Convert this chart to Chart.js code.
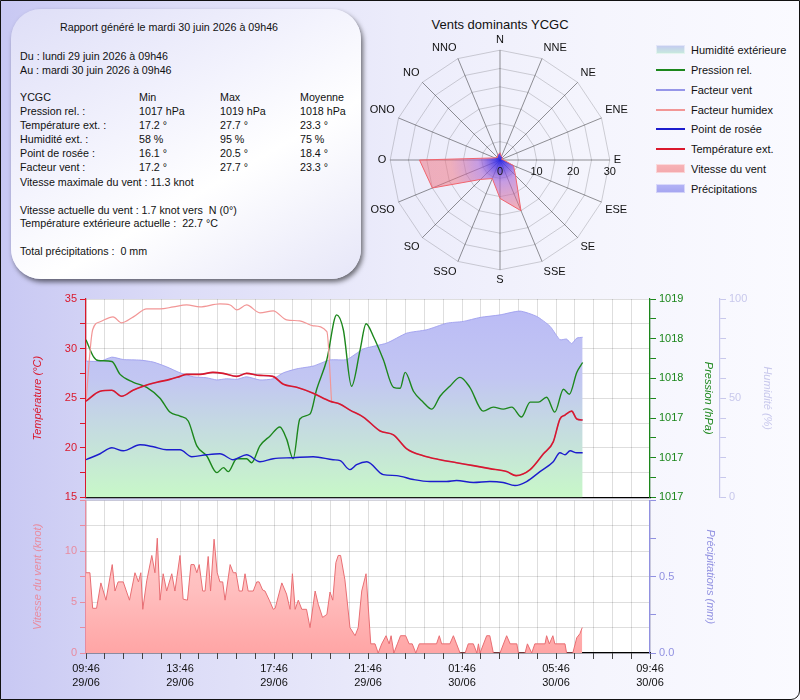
<!DOCTYPE html>
<html>
<head>
<meta charset="utf-8">
<script src="https://cdn.jsdelivr.net/npm/chart.js@4.4.0/dist/chart.umd.min.js"></script>
<style>
html,body{margin:0;padding:0}
body{width:800px;height:700px;overflow:hidden;position:relative;font-family:"Liberation Sans",Arial,sans-serif;font-size:11px;color:#111;
  background:linear-gradient(to right,#c8c8f3 0%,#dcdcf7 22%,#ececfb 50%,#f5f5fd 75%,#fafaff 100%)}
#frame{position:absolute;left:0;top:0;width:798px;height:698px;border:1px solid #111;border-radius:0 0 9px 0;pointer-events:none;z-index:10}
#info{position:absolute;left:11px;top:9px;width:350px;height:270px;border-radius:30px;
  background:linear-gradient(150deg,#dedef7 0%,#f3f3fd 40%,#ffffff 62%,#e6e6f8 100%);
  box-shadow:2px 3px 5px rgba(0,0,0,0.55)}
.t{position:absolute;white-space:pre;line-height:14px;font-size:10.7px}
#roseTitle{position:absolute;left:400px;width:200px;top:17px;text-align:center;font-size:13px}
#rose{position:absolute;left:367px;top:33px}
#legend{position:absolute;left:656px;top:0}
.li{position:absolute;left:0;white-space:nowrap;font-size:11px;line-height:14px}
.sw{position:absolute;left:0;width:29px}
.lt{position:absolute;left:35px;top:0}
canvas.main{position:absolute;left:0}
#bottom{top:491px}
#top{top:289px}
</style>
</head>
<body>
<div id="info"></div>
<div id="roseTitle">Vents dominants YCGC</div>
<canvas id="rose" width="264" height="254"></canvas>
<div id="legend"></div>
<canvas id="bottom" class="main" width="800" height="209"></canvas>
<canvas id="top" class="main" width="800" height="218"></canvas>
<div id="frame"></div>
<script>
// minutes since 29/06 09:46
const timeTicks = ['09:46','13:46','17:46','21:46','01:46','05:46','09:46'];
const dateTicks = ['29/06','29/06','29/06','29/06','30/06','30/06','30/06'];

const tempTimes = [0,36,66,91,120,146,181,214,240,257,291,324,350,385,410,444,477,504,538,580,623,649,674,708,751,785,819,861,904,946,989,1031,1074,1098,1134,1168,1193,1210,1223,1240,1253,1268];
const tempValues = [24.7,25.7,25.8,25.2,25.8,26.2,26.6,26.9,27.2,27.4,27.4,27.6,27.5,27.2,27.5,27.3,27.2,26.4,26.1,25.5,24.7,24.4,23.8,23.1,21.7,21.3,19.9,19.2,18.8,18.5,18.2,17.9,17.6,17.2,17.8,19.4,20.6,22.9,23.3,23.7,22.9,22.8];

const humidexTimes = [0,17,36,69,91,121,155,189,223,257,291,342,368,385,410,444,478,512,546,580,615,627];
const humidexValues = [24.7,31.9,32.7,33.2,32.6,33.2,34.0,34.0,34.2,34.4,34.2,34.5,34.4,33.9,34.4,33.6,33.8,32.9,32.8,32.3,31.7,24.7];

const dewTimes = [0,36,66,95,138,172,206,240,270,308,342,376,410,444,478,529,580,631,649,674,691,717,759,793,836,878,921,946,989,1031,1065,1095,1125,1159,1193,1210,1223,1236,1253,1268];
const dewValues = [18.8,19.4,20.0,19.7,20.3,20.1,19.8,19.8,19.1,19.3,19.4,18.8,19.3,18.6,18.9,19.0,19.1,18.8,18.7,17.8,18.3,18.6,17.3,17.2,16.8,16.6,16.6,16.7,16.5,16.6,16.5,16.2,16.6,17.6,18.6,19.5,19.3,19.7,19.5,19.5];

const humTimes = [0,36,66,95,138,172,206,240,274,308,334,359,385,410,444,478,504,538,580,623,666,708,768,819,870,921,963,1006,1057,1108,1151,1185,1210,1227,1240,1253,1268];
const humValues = [68.7,68.6,70.7,69.5,69.2,68.2,65.8,62.8,60.8,60.3,59.2,59.8,59.5,60.8,59.2,59.8,62.8,64.8,66.2,69.3,69.5,74.8,77.8,82.8,84.5,87.8,88.7,90.7,92.0,93.9,91.2,86.2,79.5,79.8,77.5,80.3,80.7];

const presTimes = [0,19,31,66,87,121,155,189,214,240,261,283,308,334,351,363,385,410,423,444,470,495,512,529,546,572,589,615,640,657,678,700,715,734,759,785,802,815,836,861,883,904,929,955,980,1014,1040,1065,1087,1112,1134,1155,1176,1197,1219,1234,1253,1268];
const presValues = [1018.59,1018.42,1018.38,1018.37,1018.24,1018.16,1018.11,1018.0,1017.86,1017.82,1017.77,1017.52,1017.42,1017.25,1017.30,1017.26,1017.39,1017.39,1017.35,1017.52,1017.62,1017.71,1017.59,1017.39,1017.79,1017.84,1018.09,1018.39,1018.84,1018.69,1018.12,1018.49,1018.75,1018.62,1018.39,1018.11,1018.10,1018.26,1018.07,1017.96,1017.89,1018.02,1018.12,1018.21,1018.11,1017.87,1017.91,1017.89,1017.91,1017.81,1017.96,1017.96,1018.01,1017.86,1018.09,1018.04,1018.26,1018.36];

const windTimes = [0,10,17,27,38,51,67,74,82,95,111,125,134,140,145,155,168,176,182,189,197,206,219,227,240,248,259,268,276,283,289,298,304,312,318,327,335,342,349,355,368,376,383,391,399,406,414,427,436,442,451,457,468,478,483,500,512,521,527,534,542,551,563,572,585,593,604,615,623,630,638,644,650,661,674,687,695,704,715,727,738,746,755,766,774,779,786,795,803,816,825,833,842,851,895,902,908,929,938,946,955,968,976,989,998,1002,1006,1023,1031,1040,1057,1074,1083,1100,1104,1121,1127,1138,1146,1172,1176,1183,1192,1197,1223,1227,1243,1253,1261,1267];
const windValues = [7.9,7.9,4.4,4.4,6.9,5.2,8.7,6.1,7.0,7.0,5.2,7.9,7.0,7.9,4.3,7.1,9.6,7.9,11.3,5.2,7.8,6.1,7.8,6.1,9.6,5.3,5.2,8.7,8.7,7.9,8.7,6.1,6.1,9.5,6.1,11.2,7.9,7.0,7.0,5.2,8.7,7.9,7.9,6.1,6.1,7.8,6.1,6.1,7.0,7.0,6.2,6.1,5.2,4.3,4.4,6.9,5.8,4.3,7.8,4.3,5.2,4.3,4.3,2.5,6.1,4.8,3.5,3.8,6.0,5.2,8.9,9.6,9.6,7.2,2.5,1.7,2.5,6.1,7.8,0.9,0.9,0,0.9,1.7,0.9,1.7,0,0.9,1.7,1.7,0.9,0.9,0,0.9,0.9,1.7,0.9,0.9,1.7,0.9,0,0,0.9,0.9,0,0.9,0,1.7,1.7,0,0,1.7,0.9,0.9,0,0,0.9,0,0.9,0.9,1.7,0.9,1.7,0.9,0.9,0,0,1.5,1.9,2.5];

const precipTimes = [];
const precipValues = [];

const roseDirections = ['N','NNE','NE','ENE','E','ESE','SE','SSE','S','SSO','SO','OSO','O','ONO','NO','NNO'];
const roseValues = [2,1,1,0.5,1,4,6,15,10.5,5.5,7.5,20,22,1.5,1,1.5];
const roseTicks = [0,10,20,30];

const C = {
  temp:'rgb(218,24,44)', dew:'rgb(28,28,205)', humidex:'rgb(242,150,150)', chill:'rgb(150,150,232)',
  pres:'rgb(28,135,28)', hum:'rgb(200,200,236)', windAx:'rgb(232,140,160)', wind:'rgb(232,110,115)',
  precip:'rgb(145,145,225)', grid:'rgba(0,0,0,0.13)'
};
const FONT = '"Liberation Sans", Arial, sans-serif';
Chart.defaults.font.family = FONT;
Chart.defaults.font.size = 11;

function pts(xs, ys){ return xs.map((x,i) => ({x:x, y:ys[i]})); }

// info panel
const info = document.getElementById('info');
const infoLines = [
  [49,11,'Rapport généré le mardi 30 juin 2026 à 09h46'],
  [9,40,'Du : lundi 29 juin 2026 à 09h46'],
  [9,54,'Au : mardi 30 juin 2026 à 09h46'],
  [9,81,'YCGC'],[128,81,'Min'],[209,81,'Max'],[289,81,'Moyenne'],
  [9,95,'Pression rel. :'],[128,95,'1017 hPa'],[209,95,'1019 hPa'],[289,95,'1018 hPa'],
  [9,109,'Température ext. :'],[128,109,'17.2 °'],[209,109,'27.7 °'],[289,109,'23.3 °'],
  [9,123,'Humidité ext. :'],[128,123,'58 %'],[209,123,'95 %'],[289,123,'75 %'],
  [9,137,'Point de rosée :'],[128,137,'16.1 °'],[209,137,'20.5 °'],[289,137,'18.4 °'],
  [9,151,'Facteur vent :'],[128,151,'17.2 °'],[209,151,'27.7 °'],[289,151,'23.3 °'],
  [9,166,'Vitesse maximale du vent : 11.3 knot'],
  [9,194,'Vitesse actuelle du vent : 1.7 knot vers  N (0°)'],
  [9,207,'Température extérieure actuelle :  22.7 °C'],
  [9,235,'Total précipitations :  0 mm']
];
infoLines.forEach(l => {
  const d = document.createElement('div');
  d.className = 't'; d.style.left = l[0]+'px'; d.style.top = l[1]+'px'; d.textContent = l[2];
  info.appendChild(d);
});

// legend
const legendItems = [
  ['Humidité extérieure','box','linear-gradient(to bottom,#c4c8f2,#c8ecdc)'],
  ['Pression rel.','line',C.pres],
  ['Facteur vent','line',C.chill],
  ['Facteur humidex','line',C.humidex],
  ['Point de rosée','line',C.dew],
  ['Température ext.','line',C.temp],
  ['Vitesse du vent','box','linear-gradient(to bottom,#f7b4b8,#f4a8ac)'],
  ['Précipitations','box','linear-gradient(to bottom,#b4b4f6,#a4a4f0)']
];
const legend = document.getElementById('legend');
legendItems.forEach((it,i) => {
  const row = document.createElement('div');
  row.className = 'li'; row.style.top = Math.round(43 + i*19.85)+'px';
  const sw = document.createElement('div'); sw.className = 'sw';
  if (it[1] === 'line'){ sw.style.top = '6px'; sw.style.height = '2px'; sw.style.background = it[2]; }
  else { sw.style.top = '2px'; sw.style.height = '9px'; sw.style.background = it[2]; sw.style.boxShadow = 'inset 0 0 0 1px rgba(255,255,255,0.5)'; }
  const tx = document.createElement('div'); tx.className = 'lt'; tx.textContent = it[0];
  row.appendChild(sw); row.appendChild(tx); legend.appendChild(row);
});

const plotBg = {
  id:'plotBg',
  beforeDraw(c){
    const a = c.chartArea, ctx = c.ctx;
    ctx.save(); ctx.fillStyle = '#fff';
    ctx.fillRect(a.left, a.top, a.right-a.left, a.bottom-a.top);
    ctx.restore();
  }
};

function humFill(c){
  const a = c.chart.chartArea;
  if (!a) return 'rgb(196,210,238)';
  const g = c.chart.ctx.createLinearGradient(0, a.top, 0, a.bottom);
  g.addColorStop(0, 'rgb(186,186,246)');
  g.addColorStop(0.4, 'rgb(194,198,242)');
  g.addColorStop(1, 'rgb(200,248,200)');
  return g;
}
function windFill(c){
  const a = c.chart.chartArea;
  if (!a) return 'rgb(255,190,190)';
  const g = c.chart.ctx.createLinearGradient(0, a.top, 0, a.bottom);
  g.addColorStop(0, 'rgb(255,215,215)');
  g.addColorStop(0.6, 'rgb(255,190,190)');
  g.addColorStop(1, 'rgb(255,165,165)');
  return g;
}

const xBase = {type:'linear', min:0, max:1440};

// top panel
new Chart(document.getElementById('top'), {
  type:'line',
  data:{datasets:[
    {label:'Température ext.', data:pts(tempTimes,tempValues), yAxisID:'yT', borderColor:C.temp, borderWidth:1.6, pointRadius:0, cubicInterpolationMode:'monotone'},
    {label:'Point de rosée', data:pts(dewTimes,dewValues), yAxisID:'yT', borderColor:C.dew, borderWidth:1.4, pointRadius:0, cubicInterpolationMode:'monotone'},
    {label:'Facteur humidex', data:pts(humidexTimes,humidexValues), yAxisID:'yT', borderColor:C.humidex, borderWidth:1.2, pointRadius:0, cubicInterpolationMode:'monotone'},
    {label:'Facteur vent', data:pts(tempTimes,tempValues), yAxisID:'yT', borderColor:C.chill, borderWidth:1.2, pointRadius:0, cubicInterpolationMode:'monotone'},
    {label:'Pression rel.', data:pts(presTimes,presValues), yAxisID:'yP', borderColor:C.pres, borderWidth:1.4, pointRadius:0, cubicInterpolationMode:'monotone'},
    {label:'Humidité extérieure', data:pts(humTimes,humValues), yAxisID:'yH', borderColor:'rgba(160,160,238,0.9)', borderWidth:1, pointRadius:0, fill:'start', backgroundColor:humFill, tension:0.2}
  ]},
  options:{
    responsive:false, animation:false, events:[],
    layout:{padding:{top:10,left:0,right:0,bottom:0}},
    plugins:{legend:{display:false}, tooltip:{enabled:false}},
    scales:{
      x:Object.assign({}, xBase, {z:1, ticks:{display:false, stepSize:48}, grid:{color:C.grid, drawTicks:false}, border:{color:'#000', width:1.2},
        afterFit(s){ s.height = 8; }}),
      yT:{position:'left', min:15, max:35, z:1,
        ticks:{stepSize:2.5, color:C.temp, padding:3, callback:(v,i) => i%2===0 ? String(v) : ''},
        grid:{color:C.grid, tickColor:C.temp, tickLength:6},
        border:{color:C.temp, width:1.2},
        title:{display:true, text:'Température (°C)', color:C.temp, font:{style:'italic', size:11}, padding:{top:31}},
        afterFit(s){ s.width = 86; }},
      yP:{position:'right', min:1017, max:1019,
        ticks:{stepSize:0.2, color:C.pres, padding:3, callback:(v,i) => i%2===0 ? String(Math.floor(v+1e-6)) : ''},
        grid:{drawOnChartArea:false, tickColor:C.pres, tickLength:6},
        border:{color:C.pres, width:1.2},
        title:{display:true, text:'Pression (hPa)', color:C.pres, font:{style:'italic', size:11}, padding:{top:5}},
        afterFit(s){ s.width = 70; }},
      yH:{position:'right', min:0, max:100,
        ticks:{stepSize:5, color:C.hum, padding:3, callback:v => v%25===0 ? String(v) : ''},
        grid:{drawOnChartArea:false, tickColor:C.hum, tickLength:6},
        border:{color:C.hum, width:1.2},
        title:{display:true, text:'Humidité (%)', color:C.hum, font:{style:'italic', size:11}, padding:{top:26}},
        afterFit(s){ s.width = 80; }}
    }
  },
  plugins:[plotBg]
});

// bottom panel
new Chart(document.getElementById('bottom'), {
  type:'line',
  data:{datasets:[
    {label:'Vitesse du vent', data:pts(windTimes,windValues), yAxisID:'yW', borderColor:C.wind, borderWidth:1, pointRadius:0, fill:'start', backgroundColor:windFill, tension:0},
    {label:'Précipitations', data:pts(precipTimes,precipValues), yAxisID:'yR', borderColor:C.precip, borderWidth:1, pointRadius:0, fill:'start', backgroundColor:'rgba(150,150,240,0.6)'}
  ]},
  options:{
    responsive:false, animation:false, events:[],
    layout:{padding:{top:8,left:0,right:0,bottom:0}},
    plugins:{legend:{display:false}, tooltip:{enabled:false}},
    scales:{
      x:Object.assign({}, xBase, {z:1,
        ticks:{stepSize:48, autoSkip:false, maxRotation:0, color:'#111', padding:3, font:{size:11, lineHeight:1.3},
          callback:v => v%240===0 ? [timeTicks[v/240], dateTicks[v/240]] : ''},
        grid:{color:C.grid, tickColor:'#444', tickLength:6}, border:{color:'#000', width:1.2},
        afterFit(s){ s.height = 47; }}),
      yW:{position:'left', min:0, max:15, z:1,
        ticks:{stepSize:2.5, color:C.windAx, padding:3, callback:v => (v%5===0 && v<15) ? String(v) : ''},
        grid:{color:C.grid, tickColor:C.windAx, tickLength:6},
        border:{color:C.windAx, width:1.2},
        title:{display:true, text:'Vitesse du vent (knot)', color:C.windAx, font:{style:'italic', size:11}, padding:{top:31}},
        afterFit(s){ s.width = 86; }},
      yR:{position:'right', min:0, max:1,
        ticks:{stepSize:0.25, color:C.precip, padding:3, callback:v => (v===0 || v===0.5) ? v.toFixed(1) : ''},
        grid:{drawOnChartArea:false, tickColor:C.precip, tickLength:6},
        border:{color:C.precip, width:1.2},
        title:{display:true, text:'Précipitations (mm)', color:C.precip, font:{style:'italic', size:11}, padding:{top:83}},
        afterFit(s){ s.width = 150; }}
    }
  },
  plugins:[plotBg]
});

// wind rose
const roseTickPlugin = {
  id:'roseTicks',
  afterDraw(c){
    const s = c.scales.r, ctx = c.ctx;
    ctx.save();
    ctx.fillStyle = '#111'; ctx.font = '11px ' + FONT;
    ctx.textAlign = 'center'; ctx.textBaseline = 'middle';
    roseTicks.forEach(v => {
      const p = s.getPointPositionForValue(4, v);
      ctx.fillText(String(v), p.x, p.y + 12);
    });
    ctx.restore();
  }
};
function roseFill(c){
  const s = c.chart.scales.r;
  if (!s || !s.drawingArea) return 'rgba(235,110,120,0.5)';
  const g = c.chart.ctx.createRadialGradient(s.xCenter, s.yCenter, 0, s.xCenter, s.yCenter, s.drawingArea);
  g.addColorStop(0, 'rgba(40,40,235,0.95)');
  g.addColorStop(0.2, 'rgba(170,100,210,0.6)');
  g.addColorStop(0.45, 'rgba(238,110,125,0.5)');
  g.addColorStop(1, 'rgba(238,110,125,0.5)');
  return g;
}
new Chart(document.getElementById('rose'), {
  type:'radar',
  data:{labels:roseDirections, datasets:[
    {label:'Vents dominants', data:roseValues, borderColor:'rgb(240,100,110)', borderWidth:1, pointRadius:0, fill:true, backgroundColor:roseFill}
  ]},
  options:{
    responsive:false, animation:false, events:[],
    layout:{padding:0},
    plugins:{legend:{display:false}, tooltip:{enabled:false}},
    scales:{r:{min:0, max:30, startAngle:0,
      ticks:{display:false, stepSize:5},
      grid:{color:'rgba(0,0,0,0.17)'},
      angleLines:{color:'rgba(0,0,0,0.42)'},
      pointLabels:{font:{size:11}, color:'#111', padding:4}
    }}
  },
  plugins:[roseTickPlugin]
});
</script>
</body>
</html>
